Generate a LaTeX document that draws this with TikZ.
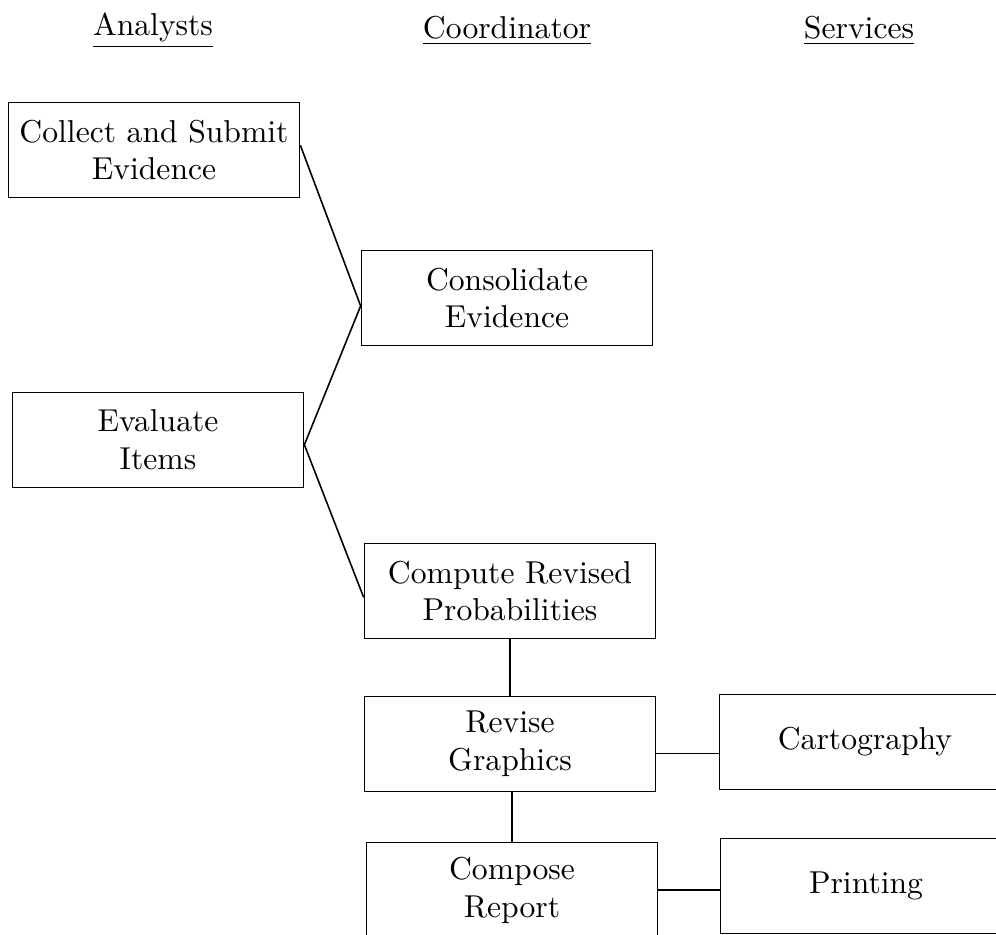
\documentclass[tikz,border=0pt]{standalone}
\usetikzlibrary{positioning}
\begin{document}
\begin{tikzpicture}[x=0.316pt, y=-0.316pt, line width=0.5pt,
    task/.style={draw, align=center, inner sep=0pt, minimum width=92pt, minimum height=30pt},
    head/.style={inner sep=0pt}]
  % page frame, boxes at the right and bottom run off the page
  \clip (0,0) rectangle (996,934);
  % Column headings.
  \node[head] (hanalysts) at (153,31) {\underline{Analysts}};
  \node[head] (hcoord) at (507,31) {\underline{Coordinator}};
  \node[head] (hservices) at (859,31) {\underline{Services}};
  % Analyst tasks.
  \node[task] (collect) at (154,150) {Collect and Submit\\Evidence};
  \node[task] (evaluate) at (158,440) {Evaluate\\Items};
  % Coordinator tasks.
  \node[task] (consol) at (507,298) {Consolidate\\Evidence};
  \node[task] (compute) at (510,591) {Compute Revised\\Probabilities};
  \node[task] (revise) at (510,744) {Revise\\Graphics};
  \node[task] (compose) at (512,890) {Compose\\Report};
  % Services.
  \node[task] (carto) at (865,742) {Cartography};
  \node[task] (printing) at (866,886) {Printing};
  % Connections.
  \draw ([yshift=1.5pt]collect.east) -- ([yshift=-2.5pt]consol.west);
  \draw ([yshift=-1.5pt]evaluate.east) -- ([yshift=-2.5pt]consol.west);
  \draw ([yshift=-1.5pt]evaluate.east) -- ([yshift=-2pt]compute.west);
  \draw (compute.south) -- (compute.south |- revise.north);
  \draw ([xshift=0.6pt]revise.south) -- ([xshift=0.6pt]revise.south |- compose.north);
  \draw ([yshift=-3pt]revise.east) -- ([yshift=-3pt]revise.east -| carto.west);
  \draw (compose.east) -- (compose.east -| printing.west);
\end{tikzpicture}
\end{document}
